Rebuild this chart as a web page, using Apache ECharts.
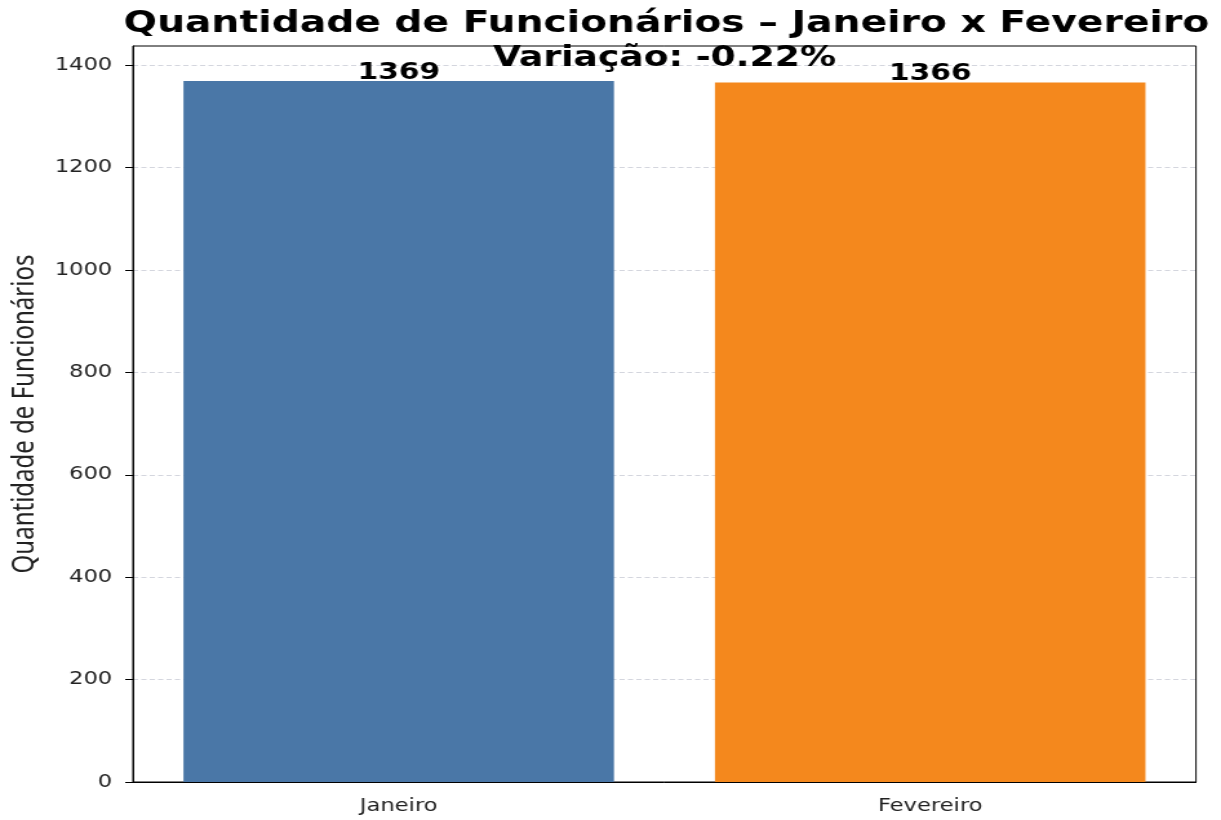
<!DOCTYPE html>
<html>
<head>
<meta charset="utf-8">
<script src="https://cdn.jsdelivr.net/npm/echarts@6/dist/echarts.min.js"></script>
<style>
  html, body { margin: 0; padding: 0; background: #fff; }
  #wrap { width: 1221px; height: 820px; overflow: hidden; }
  /* the reference picture is stretched sideways, so the chart is drawn narrower and widened */
  #main { width: 946px; height: 820px; transform: scaleX(1.2907); transform-origin: 0 0; }
</style>
</head>
<body>
<div id="wrap"><div id="main"></div></div>
<script>
const categories = ["Janeiro", "Fevereiro"];
const values = [1369, 1366];
const yTicks = [0, 200, 400, 600, 800, 1000, 1200, 1400];
const barColors = ["#4a77a7", "#f4881d"];

const variacao = ((values[1] - values[0]) / values[0]) * 100;
const yMax = Math.max(...values) * 1.05; // margem do matplotlib

const myCharts = echarts.init(document.getElementById("main"));

const gridLeft = 103, gridRight = 19.4, gridTop = 46, gridBottom = 38;
const plotCenter = gridLeft + (946 - gridLeft - gridRight) / 2;

const option = {
  animation: false,
  backgroundColor: "#fff",
  textStyle: { fontFamily: "DejaVu Sans" },
  graphic: [
    {
      type: "text",
      x: plotCenter + 1.5,
      y: 24,
      style: {
        text: "Quantidade de Funcionários – Janeiro x Fevereiro",
        font: 'bold 30.4px "DejaVu Sans"',
        fill: "#000",
        align: "center",
        verticalAlign: "middle",
      },
    },
    {
      type: "text",
      x: plotCenter,
      y: 59,
      z: 100,
      style: {
        text: "Variação: " + variacao.toFixed(2) + "%",
        font: 'bold 28px "DejaVu Sans"',
        fill: "#000",
        align: "center",
        verticalAlign: "middle",
      },
    },
  ],
  grid: {
    left: gridLeft,
    right: gridRight,
    top: gridTop,
    bottom: gridBottom,
    outerBoundsMode: "none",
    containLabel: false,
    show: true,
    borderColor: "#000",
    borderWidth: 1,
    backgroundColor: "transparent",
  },
  xAxis: {
    type: "category",
    data: categories,
    axisLine: { lineStyle: { color: "#000", width: 1 } },
    axisTick: { alignWithLabel: true, length: 5, lineStyle: { color: "#000" } },
    axisLabel: { color: "#222", fontSize: 17.5, margin: 15, fontFamily: "DejaVu Sans" },
  },
  yAxis: {
    type: "value",
    min: 0,
    max: yMax,
    interval: 200,
    name: "Quantidade de Funcionários",
    nameLocation: "middle",
    nameRotate: 90,
    nameGap: 68,
    nameTextStyle: { fontFamily: "Noto Sans", fontSize: 24, color: "#222" },
    axisLine: { show: true, lineStyle: { color: "#000", width: 1 } },
    axisTick: { show: true, length: 6, customValues: yTicks, lineStyle: { color: "#000" } },
    axisLabel: {
      color: "#222",
      fontSize: 17.5,
      margin: 16,
      customValues: yTicks,
      fontFamily: "DejaVu Sans",
      formatter: (v) => String(v),
    },
    splitLine: {
      show: true,
      lineStyle: { type: [4, 2.5], color: "#d4d6de", width: 1 },
    },
  },
  series: [
    {
      type: "bar",
      barWidth: "81%",
      data: values.map((v, i) => ({ value: v, itemStyle: { color: barColors[i] } })),
      label: {
        show: true,
        position: "top",
        distance: -3,
        color: "#000",
        fontWeight: "bold",
        fontSize: 23,
        fontFamily: "DejaVu Sans",
      },
    },
  ],
};

myCharts.setOption(option);
</script>
</body>
</html>
